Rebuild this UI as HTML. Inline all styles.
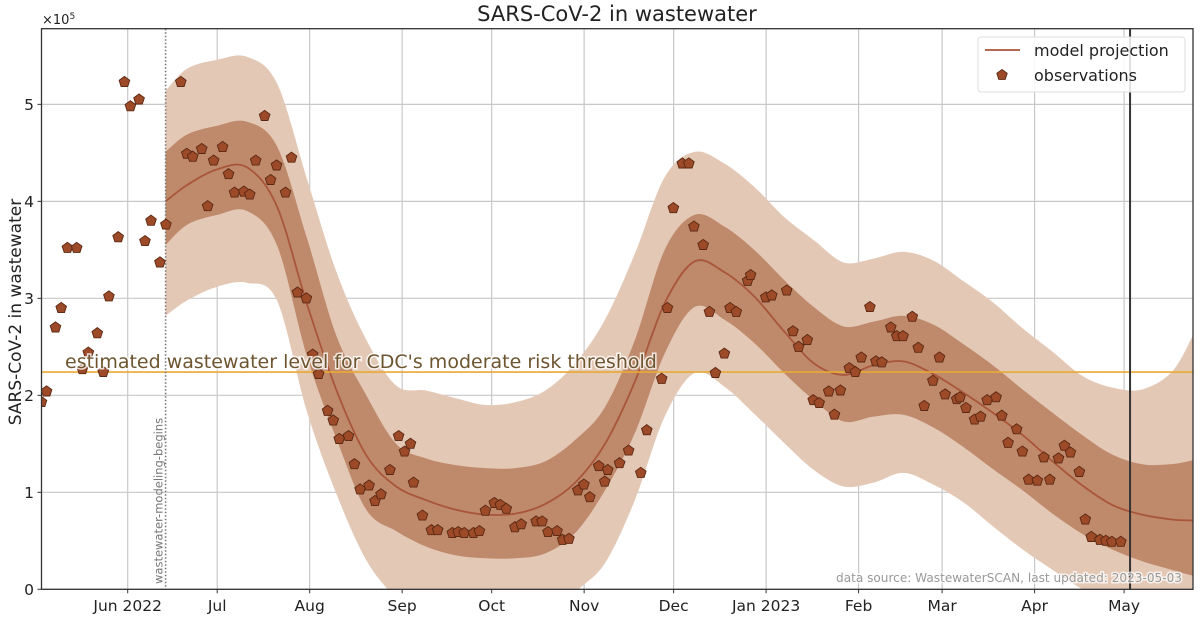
<!DOCTYPE html>
<html><head><meta charset="utf-8">
<style>
html,body{margin:0;padding:0;background:#fff;}
svg{display:block;font-family:"DejaVu Sans","Liberation Sans",sans-serif;}
</style></head>
<body>
<svg id="chart" width="1200" height="620" viewBox="0 0 1200 620" xmlns="http://www.w3.org/2000/svg"></svg>
<script>
// ---- data (days since 2022-06-01, values in units of 1e5) ----
const xTickLabels = ["Jun 2022","Jul","Aug","Sep","Oct","Nov","Dec","Jan 2023","Feb","Mar","Apr","May"];
const xTickDays = [0,30,61,92,122,153,183,214,245,273,304,334];
const yTickLabels = ["0","1","2","3","4","5"];
const yTickValues = [0,1,2,3,4,5];
const modelDays = [12.7,20,30,40,50,60,70,80,90,100,110,120,130,140,150,160,170,180,190,200,210,220,230,240,250,260,270,280,290,300,310,320,330,340,350,357];
const modelMean = [4.0,4.17,4.33,4.35,3.95,2.95,2.05,1.38,1.06,0.92,0.82,0.77,0.78,0.88,1.10,1.50,2.14,2.95,3.38,3.27,3.02,2.66,2.33,2.21,2.31,2.35,2.22,2.03,1.82,1.59,1.32,1.07,0.87,0.77,0.72,0.71];
const innerUpper = [4.51,4.69,4.78,4.82,4.57,3.63,2.61,2.0,1.50,1.35,1.28,1.25,1.25,1.32,1.54,1.88,2.57,3.50,3.86,3.74,3.50,3.19,2.91,2.71,2.76,2.82,2.73,2.53,2.31,2.06,1.82,1.59,1.39,1.29,1.29,1.33];
const innerLower = [3.55,3.76,3.86,3.90,3.55,2.41,1.55,0.82,0.60,0.44,0.35,0.32,0.32,0.37,0.58,1.02,1.61,2.43,2.91,2.78,2.54,2.23,1.95,1.73,1.78,1.80,1.67,1.47,1.24,1.02,0.78,0.57,0.41,0.29,0.20,0.14];
const outerUpper = [5.14,5.37,5.46,5.49,5.22,4.24,3.27,2.57,2.10,2.05,1.97,1.90,1.93,2.05,2.33,2.78,3.46,4.25,4.51,4.39,4.15,3.84,3.60,3.37,3.41,3.48,3.39,3.18,2.96,2.69,2.45,2.20,2.08,2.06,2.24,2.61];
const outerLower = [2.82,2.98,3.12,3.16,2.98,1.84,0.98,0.30,-0.1,-0.4,-0.5,-0.5,-0.5,-0.45,-0.04,0.27,0.92,1.78,2.23,2.09,1.81,1.51,1.23,1.06,1.10,1.20,1.08,0.90,0.65,0.41,0.20,0.0,-0.15,-0.25,-0.3,-0.35];
const obsDays = [-28.9,-27.2,-24.2,-22.3,-20.2,-17.1,-15.2,-13.2,-10.2,-8.2,-6.3,-3.2,-1.1,0.9,3.8,5.8,7.8,10.8,12.8,17.8,19.8,21.8,24.8,26.8,28.8,31.8,33.8,35.8,38.9,40.9,42.9,45.9,47.9,49.9,52.9,54.9,56.9,59.9,62.0,64.0,67.0,68.9,70.9,74.0,76.0,77.9,80.9,82.9,84.9,87.9,90.8,92.8,94.8,95.8,98.8,101.8,103.9,108.8,110.8,112.8,115.9,117.9,119.9,122.9,124.9,126.9,129.8,131.9,136.9,138.9,140.9,143.9,145.8,147.9,150.9,152.9,154.9,157.9,159.9,160.9,164.9,167.9,172.0,174.0,179.0,180.9,182.9,185.9,188.1,189.8,192.9,195.0,197.0,200.0,201.9,204.0,207.8,208.8,213.9,215.9,220.9,223.0,224.9,227.8,229.8,231.8,235.0,236.9,238.9,241.9,243.9,245.9,248.8,250.8,252.8,255.8,257.8,259.9,263.0,265.0,267.0,269.9,272.1,274.0,277.9,279.0,281.0,283.9,285.9,288.1,291.1,293.0,295.1,298.0,299.9,302.0,304.9,307.1,309.1,312.0,314.0,316.0,319.0,321.0,323.0,325.9,327.9,329.9,332.9];
const obsValues = [1.93,2.04,2.70,2.90,3.52,3.52,2.27,2.44,2.64,2.24,3.02,3.63,5.23,4.98,5.05,3.59,3.80,3.37,3.76,5.23,4.49,4.46,4.54,3.95,4.42,4.56,4.28,4.09,4.10,4.07,4.42,4.88,4.22,4.37,4.09,4.45,3.06,3.00,2.42,2.22,1.84,1.74,1.55,1.58,1.29,1.03,1.07,0.91,0.98,1.23,1.58,1.42,1.50,1.10,0.76,0.61,0.61,0.58,0.59,0.58,0.58,0.60,0.81,0.89,0.87,0.83,0.64,0.67,0.70,0.70,0.59,0.60,0.51,0.52,1.02,1.08,0.95,1.27,1.11,1.23,1.30,1.43,1.20,1.64,2.17,2.90,3.93,4.39,4.39,3.74,3.55,2.86,2.23,2.43,2.90,2.86,3.18,3.24,3.01,3.03,3.08,2.66,2.50,2.57,1.95,1.92,2.04,1.80,2.05,2.28,2.24,2.39,2.91,2.35,2.34,2.70,2.61,2.61,2.81,2.49,1.89,2.15,2.39,2.01,1.96,1.98,1.87,1.75,1.78,1.95,1.98,1.79,1.51,1.65,1.42,1.13,1.12,1.36,1.13,1.35,1.48,1.41,1.21,0.72,0.54,0.51,0.50,0.49,0.49];
const thresholdValue = 2.24;
const modelStartDay = 12.7;
const lastUpdatedDay = 336;

// ---- layout ----
const L=41.5,R=1193,T=28.7,B=589.3;
const dMin=-28.9,dMax=357.1,vMin=0,vMax=5.78;
const xS=d=>L+(d-dMin)/(dMax-dMin)*(R-L);
const yS=v=>B-(v-vMin)/(vMax-vMin)*(B-T);
const NS="http://www.w3.org/2000/svg";
const svg=document.getElementById('chart');
function mk(tag,attrs,parent){const e=document.createElementNS(NS,tag);for(const k in attrs)e.setAttribute(k,attrs[k]);(parent||svg).appendChild(e);return e;}

function spline(pts){
  let d=`M${pts[0][0]},${pts[0][1]}`;
  for(let i=0;i<pts.length-1;i++){
    const p0=pts[Math.max(0,i-1)],p1=pts[i],p2=pts[i+1],p3=pts[Math.min(pts.length-1,i+2)];
    const c1=[p1[0]+(p2[0]-p0[0])/6,p1[1]+(p2[1]-p0[1])/6];
    const c2=[p2[0]-(p3[0]-p1[0])/6,p2[1]-(p3[1]-p1[1])/6];
    d+=` C${c1[0]},${c1[1]} ${c2[0]},${c2[1]} ${p2[0]},${p2[1]}`;
  }
  return d;
}
function bandPath(up,lo){
  const a=modelDays.map((d,i)=>[xS(d),yS(up[i])]);
  const b=modelDays.map((d,i)=>[xS(d),yS(lo[i])]).reverse();
  return spline(a)+' L'+spline(b).slice(1)+' Z';
}

mk('defs',{}).innerHTML='<clipPath id="pc"><rect x="'+L+'" y="'+T+'" width="'+(R-L)+'" height="'+(B-T)+'"/></clipPath>';

const grid=mk('g',{});


xTickDays.forEach(d=>mk('line',{x1:xS(d),x2:xS(d),y1:T,y2:B,stroke:'#c8c8c8','stroke-width':1.2},grid));
yTickValues.forEach(v=>mk('line',{x1:L,x2:R,y1:yS(v),y2:yS(v),stroke:'#c8c8c8','stroke-width':1.2},grid));

const plot=mk('g',{'clip-path':'url(#pc)'});
const ob=mk('path',{d:bandPath(outerUpper,outerLower),fill:'#e4c8b6'},plot);


const ib=mk('path',{d:bandPath(innerUpper,innerLower),fill:'#bf8a6c'},plot);


const ml=mk('path',{d:spline(modelDays.map((d,i)=>[xS(d),yS(modelMean[i])])),fill:'none',stroke:'#a9553a','stroke-width':1.8},plot);



const th=mk('line',{x1:L,x2:R,y1:yS(thresholdValue),y2:yS(thresholdValue),stroke:'#e8a935','stroke-width':1.6},plot);



const ms=mk('line',{x1:xS(modelStartDay),x2:xS(modelStartDay),y1:T,y2:B,stroke:'#777','stroke-width':1.6,'stroke-dasharray':'1.5,2'},plot);


const lu=mk('line',{x1:xS(lastUpdatedDay),x2:xS(lastUpdatedDay),y1:T,y2:B,stroke:'#333','stroke-width':2},plot);



function pent(cx,cy,r){let p=[];for(let k=0;k<5;k++){const a=-Math.PI/2+k*2*Math.PI/5;p.push((cx+r*Math.cos(a)).toFixed(1)+','+(cy+r*Math.sin(a)).toFixed(1));}return p.join(' ');}
const og=mk('g',{},plot);


obsDays.forEach((d,i)=>{
  const p=mk('polygon',{points:pent(xS(d),yS(obsValues[i]),5.6),fill:'#9c4a28',stroke:'#5a2812','stroke-width':0.9},og);
  
  
});

const tt=mk('text',{x:65,y:368,'font-size':19,fill:'#6e5530',stroke:'#fff','stroke-width':3,'paint-order':'stroke','stroke-opacity':0.8});
tt.textContent="estimated wastewater level for CDC's moderate risk threshold";


const mt=mk('text',{x:0,y:0,'font-size':11.5,fill:'#777',transform:`translate(${xS(modelStartDay)-3},584) rotate(-90)`});
mt.textContent='wastewater-modeling-begins';


const ds=mk('text',{x:1182,y:582,'font-size':12.1,fill:'#999','text-anchor':'end',stroke:'#fff','stroke-width':3,'paint-order':'stroke','stroke-opacity':0.7});
ds.textContent='data source: WastewaterSCAN, last updated: 2023-05-03';



const fr=mk('rect',{x:L,y:T,width:R-L,height:B-T,fill:'none',stroke:'#333','stroke-width':1.3});



xTickDays.forEach((d,i)=>{
  mk('line',{x1:xS(d),x2:xS(d),y1:B,y2:B+4,stroke:'#333'});
  const t=mk('text',{x:xS(d),y:611,'font-size':15.5,fill:'#222','text-anchor':'middle'});
  t.textContent=xTickLabels[i];
  
  
});
yTickValues.forEach((v,i)=>{
  mk('line',{x1:L-4,x2:L,y1:yS(v),y2:yS(v),stroke:'#333'});
  const t=mk('text',{x:34,y:yS(v)+5.5,'font-size':15.5,fill:'#222','text-anchor':'end'});
  t.textContent=yTickLabels[i];
  
  
});
const ex=mk('text',{x:42,y:24,'font-size':13,fill:'#222'});
ex.innerHTML='×10<tspan dy="-5" font-size="9">5</tspan>';



const title=mk('text',{x:617,y:21,'font-size':21,fill:'#222','text-anchor':'middle'});
title.textContent='SARS-CoV-2 in wastewater';


const yl=mk('text',{x:0,y:0,'font-size':17,fill:'#222','text-anchor':'middle',transform:'translate(21,312) rotate(-90)'});
yl.textContent='SARS-CoV-2 in wastewater';



const lg=mk('g',{});


mk('rect',{x:978,y:37,width:207,height:55,rx:3,fill:'#fff','fill-opacity':0.85,stroke:'#ddd'},lg);
mk('line',{x1:985,x2:1020,y1:50,y2:50,stroke:'#a9553a','stroke-width':1.8},lg);
const l1=mk('text',{x:1034,y:56,'font-size':16,fill:'#222'},lg);
l1.textContent='model projection';


mk('polygon',{points:pent(1002,75,5.5),fill:'#9c4a28',stroke:'#5a2812','stroke-width':0.9},lg);
const l2=mk('text',{x:1034,y:81,'font-size':16,fill:'#222'},lg);
l2.textContent='observations';


</script>
</body></html>
